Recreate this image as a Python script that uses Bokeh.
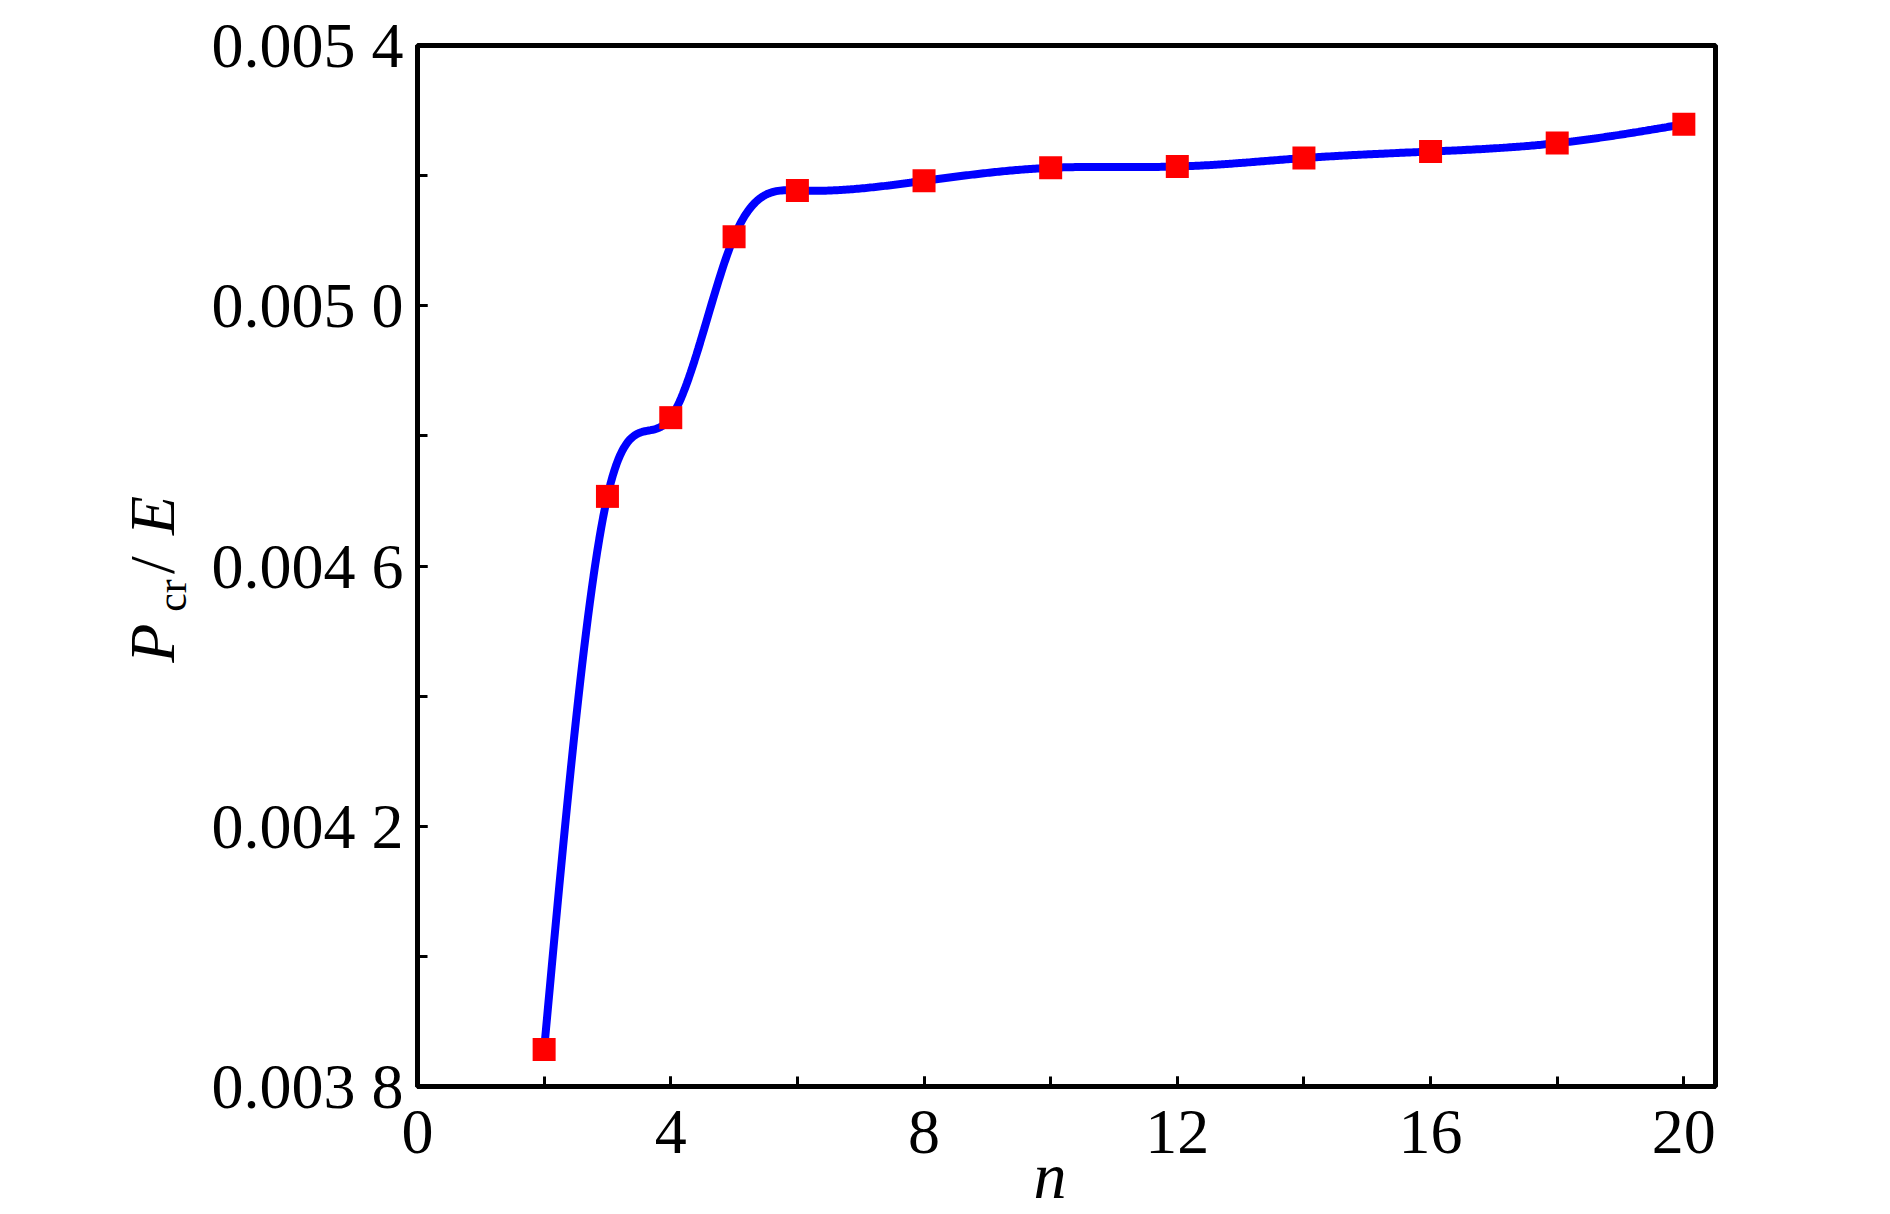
import numpy as np
from bokeh.plotting import figure
from bokeh.layouts import row
from bokeh.models import FixedTicker, Range1d, ColumnDataSource
from bokeh.core.properties import value
from bokeh.embed import file_html
from bokeh.resources import INLINE

# ---- data ----
n_vals = [2, 3, 4, 5, 6, 8, 10, 12, 14, 16, 18, 20]
pcr_e = [0.003857, 0.004707, 0.004828, 0.005106, 0.005177, 0.005192,
         0.005212, 0.005214, 0.005227, 0.005237, 0.005250, 0.005279]
x_ticks = [0, 4, 8, 12, 16, 20]
x_minor = [0, 2, 4, 6, 8, 10, 12, 14, 16, 18, 20]
y_ticks = [0.0038, 0.0042, 0.0046, 0.0050, 0.0054]
y_minor = [0.0038, 0.0040, 0.0042, 0.0044, 0.0046, 0.0048, 0.0050, 0.0052, 0.0054]
y_tick_labels = ["0.003 8", "0.004 2", "0.004 6", "0.005 0", "0.005 4"]

# ---- smooth connecting line (natural cubic spline through the data) ----
def natural_spline(xs, ys, num=600):
    xs = np.asarray(xs, float); ys = np.asarray(ys, float)
    nn = len(xs); h = np.diff(xs)
    A = np.zeros((nn, nn)); b = np.zeros(nn)
    A[0, 0] = 1; A[-1, -1] = 1
    for i in range(1, nn - 1):
        A[i, i - 1] = h[i - 1]; A[i, i] = 2 * (h[i - 1] + h[i]); A[i, i + 1] = h[i]
        b[i] = 3 * ((ys[i + 1] - ys[i]) / h[i] - (ys[i] - ys[i - 1]) / h[i - 1])
    c = np.linalg.solve(A, b)
    xx = np.linspace(xs[0], xs[-1], num); yy = np.empty_like(xx)
    for k, xv in enumerate(xx):
        i = min(np.searchsorted(xs, xv, side="right") - 1, nn - 2)
        bi = (ys[i + 1] - ys[i]) / h[i] - h[i] * (2 * c[i] + c[i + 1]) / 3
        di = (c[i + 1] - c[i]) / (3 * h[i])
        t = xv - xs[i]
        yy[k] = ys[i] + bi * t + c[i] * t * t + di * t ** 3
    return xx, yy

sx, sy = natural_spline(n_vals, pcr_e)

FONT = "Liberation Serif"
H = 1214
TOP, BOTTOM = 45, 125   # borders of the main frame (px)
LW = 200  # width of the strip holding the rotated y title

# ---- main plot ----
p = figure(width=1682, height=H, output_backend="svg", toolbar_location=None,
           x_range=Range1d(0, 20.5), y_range=Range1d(0.0038, 0.0054),
           min_border_left=217, min_border_right=167, min_border_top=TOP, min_border_bottom=BOTTOM)
p.background_fill_color = "white"
p.border_fill_color = "white"
p.grid.visible = False
p.outline_line_color = "black"
p.outline_line_width = 5

p.line(sx, sy, line_color="#0000FF", line_width=8)
src = ColumnDataSource(dict(x=n_vals, y=pcr_e))
p.scatter("x", "y", source=src, marker="square", size=23, fill_color="#FF0000",
          line_color="#FF0000", line_width=0)

for ax in (p.xaxis[0], p.yaxis[0]):
    ax.axis_line_width = 5
    ax.axis_line_color = "black"
    ax.major_tick_in = 10
    ax.major_tick_out = 0
    ax.minor_tick_in = 10
    ax.minor_tick_out = 0
    ax.major_tick_line_width = 3
    ax.minor_tick_line_width = 3
    ax.major_label_text_font = FONT
    ax.major_label_text_font_size = "64px"
    ax.major_label_text_color = "black"

p.xaxis.ticker = FixedTicker(ticks=x_ticks, minor_ticks=x_minor)
p.yaxis.ticker = FixedTicker(ticks=y_ticks, minor_ticks=y_minor)
p.yaxis.major_label_overrides = {t: l for t, l in zip(y_ticks, y_tick_labels)}
p.xaxis.major_label_standoff = 24
p.yaxis.major_label_standoff = 14

p.xaxis.axis_label = "n\u00a0\u00a0"
p.xaxis.axis_label_text_font = FONT
p.xaxis.axis_label_text_font_style = "italic"
p.xaxis.axis_label_text_font_size = "66px"
p.xaxis.axis_label_text_color = "black"
p.xaxis.axis_label_standoff = -17

# ---- strip with the rotated y title: P_cr / E ----
# the row aligns the strip's frame with the main frame (top/bottom borders),
# so its y range spans page rows TOP .. H-BOTTOM (value = H - page_y)
q = figure(width=LW, height=H, output_backend="svg", toolbar_location=None,
           title=None, x_axis_type=None, y_axis_type=None,
           x_range=Range1d(0, LW), y_range=Range1d(BOTTOM, H - TOP),
           min_border=0, min_border_left=0, min_border_right=0,
           min_border_top=TOP, min_border_bottom=BOTTOM)
q.grid.visible = False
q.outline_line_color = None
q.background_fill_color = "white"
q.border_fill_color = "white"

ang = np.pi / 2
parts = [  # text, baseline x (px), start y (px from top), size, style
    ("P", 152, 664, "64px", "italic"),
    ("cr", 171, 613, "42px", "normal"),
    ("/", 152, 575, "64px", "normal"),
    ("E", 152, 536, "64px", "italic"),
]
for txt, bx, by, fs, st in parts:
    q.text(x=[bx], y=[H - by], text=[txt], angle=ang, text_font=value(FONT),
           text_font_size=fs, text_font_style=st, text_color="black",
           text_align="left", text_baseline="alphabetic")

layout = row(q, p)
open("out.html", "w").write(file_html(layout, INLINE))
